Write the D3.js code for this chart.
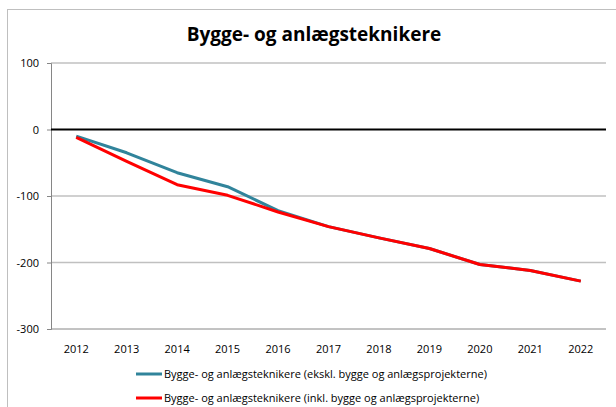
<!DOCTYPE html>
<html>
<head>
<meta charset="utf-8">
<script src="https://cdn.jsdelivr.net/npm/d3@7"></script>
<style>
  body { margin: 0; background: #fff; }
  svg text { font-family: "Open Sans", "Noto Sans", sans-serif; fill: #000; }
</style>
</head>
<body>
<div id="chart"></div>
<script>
const years = ['2012', '2013', '2014', '2015', '2016', '2017', '2018', '2019', '2020', '2021', '2022'];
const eksklValues = [-10, -35, -65, -86, -122, -146, -163, -179, -203, -212, -228];
const inklValues = [-12, -48, -83, -99, -124, -146, -163, -179, -203, -212, -228];
const yTicks = [100, 0, -100, -200, -300];
const seriesNames = [
  'Bygge- og anlægsteknikere (ekskl. bygge og anlægsprojekterne)',
  'Bygge- og anlægsteknikere (inkl. bygge og anlægsprojekterne)',
];
const titleText = 'Bygge- og anlægsteknikere';

const W = 616, H = 407;
const margin = { top: 63, left: 51 };
const plotW = 555, plotH = 266;

const svg = d3.select('#chart').append('svg')
  .attr('width', W).attr('height', H);

// chart frame (runs off the right and bottom edges)
svg.append('rect')
  .attr('x', 7.5).attr('y', 9.5)
  .attr('width', W + 20).attr('height', H + 20)
  .attr('fill', 'none').attr('stroke', '#bfbfbf');

svg.append('text')
  .attr('x', 314).attr('y', 41)
  .attr('text-anchor', 'middle')
  .style('font-size', '19px').style('font-weight', 'bold')
  .text(titleText);

const x = d3.scaleBand().domain(years).range([0, plotW]);
const y = d3.scaleLinear().domain([-300, 100]).range([plotH, 0]);

const plot = svg.append('g')
  .attr('transform', `translate(${margin.left},${margin.top})`);

// gridlines
plot.selectAll('line.grid')
  .data(yTicks.filter(d => d !== 0 && d !== -300))
  .join('line').attr('class', 'grid')
  .attr('x1', 0).attr('x2', plotW)
  .attr('y1', d => y(d)).attr('y2', d => y(d))
  .attr('stroke', '#c0c0c0').attr('stroke-width', 1.5);

// y axis
const yAxis = d3.axisLeft(y).tickValues(yTicks).tickSize(4).tickPadding(8).tickFormat(d => String(d));
const yG = plot.append('g').call(yAxis);
yG.select('.domain').attr('stroke', '#868686');
yG.selectAll('.tick line').attr('stroke', '#868686');
yG.selectAll('.tick text').style('font-size', '11px').style('font-family', '"Open Sans", sans-serif').attr('fill', '#000');

// bottom axis line at -300
plot.append('line')
  .attr('x1', 0).attr('x2', plotW)
  .attr('y1', y(-300)).attr('y2', y(-300))
  .attr('stroke', '#868686');

// year labels
plot.selectAll('text.year')
  .data(years)
  .join('text').attr('class', 'year')
  .attr('x', d => x(d) + x.bandwidth() / 2)
  .attr('y', y(-300) + 24)
  .attr('text-anchor', 'middle')
  .style('font-size', '11px')
  .text(d => d);

// zero line
plot.append('line')
  .attr('x1', 0).attr('x2', plotW)
  .attr('y1', y(0)).attr('y2', y(0))
  .attr('stroke', '#000').attr('stroke-width', 2);

const line = d3.line()
  .x((d, i) => x(years[i]) + x.bandwidth() / 2)
  .y(d => y(d));

const series = [
  { name: seriesNames[0], values: eksklValues, color: '#31849b' },
  { name: seriesNames[1], values: inklValues, color: '#ff0000' },
];

plot.selectAll('path.series')
  .data(series)
  .join('path').attr('class', 'series')
  .attr('d', d => line(d.values))
  .attr('fill', 'none')
  .attr('stroke', d => d.color)
  .attr('stroke-width', 3)
  .attr('stroke-linejoin', 'round');

// legend
const legend = svg.selectAll('g.legend')
  .data(series)
  .join('g').attr('class', 'legend')
  .attr('transform', (d, i) => `translate(136,${374 + i * 24})`);

legend.append('line')
  .attr('x1', 0).attr('x2', 26)
  .attr('stroke', d => d.color).attr('stroke-width', 3);

legend.append('text')
  .attr('x', 28).attr('dy', '0.35em')
  .style('font-size', '11px')
  .text(d => d.name);
</script>
</body>
</html>
